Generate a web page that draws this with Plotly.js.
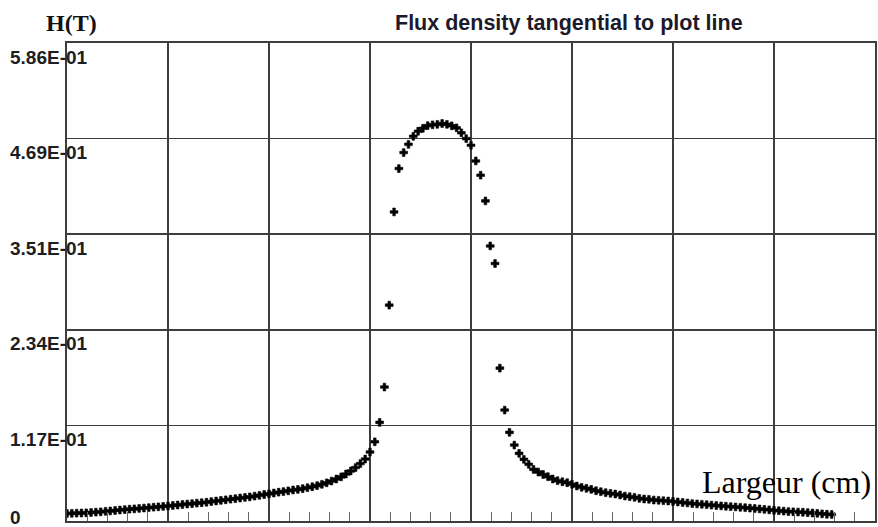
<!DOCTYPE html>
<html>
<head>
<meta charset="utf-8">
<script src="https://cdn.plot.ly/plotly-3.0.1.min.js"></script>
<style>html,body{margin:0;padding:0;background:#fff;}#chart{width:878px;height:527px;}</style>
</head>
<body>
<div id="chart"></div>
<script>
// Flux density H (T) sampled along the plot line (sample index 0..159)
const fluxDensity = [
  0.0092, 0.0094, 0.0096, 0.0098, 0.0100, 0.0104, 0.0108, 0.0113, 0.0119, 0.0123,
  0.0129, 0.0135, 0.0140, 0.0145, 0.0149, 0.0154, 0.0159, 0.0164, 0.0169, 0.0174,
  0.0179, 0.0184, 0.0190, 0.0196, 0.0202, 0.0208, 0.0213, 0.0219, 0.0224, 0.0230,
  0.0238, 0.0245, 0.0252, 0.0260, 0.0267, 0.0274, 0.0282, 0.0289, 0.0296, 0.0305,
  0.0315, 0.0325, 0.0333, 0.0343, 0.0353, 0.0361, 0.0370, 0.0380, 0.0387, 0.0397,
  0.0408, 0.0420, 0.0434, 0.0450, 0.0468, 0.0490, 0.0515, 0.0541, 0.0576, 0.0613,
  0.0655, 0.0704, 0.0760, 0.0845, 0.0971, 0.1209, 0.1642, 0.2646, 0.3789, 0.4321,
  0.4517, 0.4618, 0.4716, 0.4778, 0.4814, 0.4847, 0.4857, 0.4863, 0.4873, 0.4863,
  0.4845, 0.4820, 0.4759, 0.4688, 0.4606, 0.4414, 0.4239, 0.3924, 0.3372, 0.3157,
  0.1874, 0.1360, 0.1087, 0.0931, 0.0829, 0.0756, 0.0695, 0.0633, 0.0600, 0.0570,
  0.0543, 0.0515, 0.0494, 0.0481, 0.0469, 0.0450, 0.0429, 0.0413, 0.0401, 0.0388,
  0.0371, 0.0359, 0.0347, 0.0339, 0.0331, 0.0319, 0.0306, 0.0298, 0.0290, 0.0278,
  0.0270, 0.0266, 0.0257, 0.0254, 0.0249, 0.0245, 0.0239, 0.0233, 0.0227, 0.0221,
  0.0214, 0.0209, 0.0205, 0.0200, 0.0195, 0.0190, 0.0185, 0.0181, 0.0176, 0.0172,
  0.0168, 0.0163, 0.0158, 0.0153, 0.0148, 0.0143, 0.0137, 0.0131, 0.0126, 0.0121,
  0.0116, 0.0113, 0.0110, 0.0107, 0.0103, 0.0098, 0.0094, 0.0088, 0.0083, 0.0080
];
const sampleIndex = fluxDensity.map((_, i) => i);

const yTickVals = [0, 0.1172, 0.2344, 0.3516, 0.4688, 0.586];
const yTickText = ["0", "1.17E-01", "2.34E-01", "3.51E-01", "4.69E-01", "5.86E-01"];

const chartTitle = "Flux density tangential to plot line";
const yTitle = "H(T)";
const xTitle = "Largeur (cm)";

const gridCol = "#3d3d3d";
const labelFont = {family: "Liberation Sans, Arial, sans-serif", size: 19, color: "#1e1e1e", weight: 700};

const annotations = yTickVals.map((v, i) => ({
  xref: "paper", yref: "y", x: -0.0725, y: v, xanchor: "left", yanchor: "middle",
  yshift: v === 0 ? 4 : -14, text: yTickText[i], showarrow: false, font: labelFont
}));
annotations.push({
  xref: "paper", yref: "paper", x: -0.028, y: 1.041, xanchor: "left", yanchor: "middle",
  text: "<b>" + yTitle + "</b>", showarrow: false,
  font: {family: "Liberation Serif, Times New Roman, serif", size: 24, color: "#111"}
});
annotations.push({
  xref: "paper", yref: "paper", x: 0.404, y: 1.041, xanchor: "left", yanchor: "middle",
  text: "<b>" + chartTitle + "</b>", showarrow: false,
  font: {family: "Liberation Sans, Arial, sans-serif", size: 21.5, color: "#1c1a2a"}
});
annotations.push({
  xref: "paper", yref: "paper", x: 0.9975, y: 0.082, xanchor: "right", yanchor: "middle",
  text: xTitle, showarrow: false,
  font: {family: "Liberation Serif, Times New Roman, serif", size: 32, color: "#000"}
});

const trace = {
  x: sampleIndex, y: fluxDensity, type: "scatter", mode: "markers",
  marker: {symbol: "cross", size: 6.5, color: "#000", line: {width: 0.6, color: "#000"}},
  hoverinfo: "skip"
};

const layout = {
  width: 878, height: 527,
  margin: {l: 67, r: 3, t: 43, b: 6, pad: 0},
  paper_bgcolor: "#fff", plot_bgcolor: "#fff",
  showlegend: false,
  xaxis: {
    range: [0, 168], tick0: 0, dtick: 21, showticklabels: false,
    showgrid: true, gridcolor: gridCol, gridwidth: 1.6,
    zeroline: false, showline: true, mirror: true, linecolor: gridCol, linewidth: 1.6,
    ticks: "", fixedrange: true,
    minor: {dtick: 4.2, ticks: "inside", ticklen: 9, tickcolor: "#666", tickwidth: 1, showgrid: false}
  },
  yaxis: {
    range: [0, 0.586], tickvals: yTickVals, showticklabels: false,
    showgrid: true, gridcolor: gridCol, gridwidth: 1.6,
    zeroline: false, showline: true, mirror: true, linecolor: gridCol, linewidth: 1.6,
    ticks: "", fixedrange: true
  },
  annotations: annotations
};

Plotly.newPlot("chart", [trace], layout, {displayModeBar: false, staticPlot: true});
</script>
</body>
</html>
